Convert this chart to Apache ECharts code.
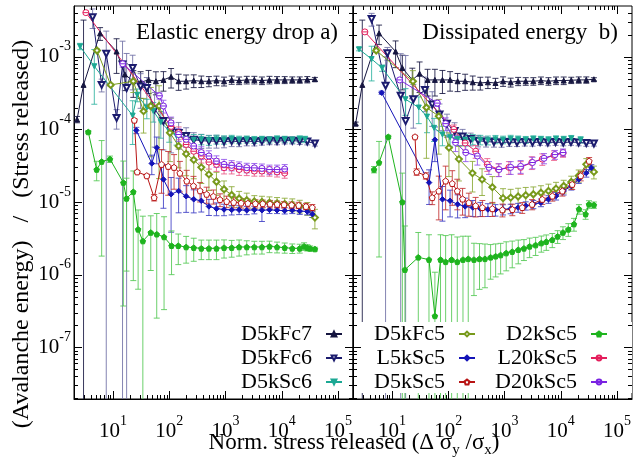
<!DOCTYPE html>
<html><head><meta charset="utf-8">
<script src="https://cdn.jsdelivr.net/npm/echarts@6/dist/echarts.min.js"></script>
<style>html,body{margin:0;padding:0;background:#fff}#c{width:635px;height:461px}</style>
</head><body><div id="c"></div><script>
const FONT = 'Liberation Serif';
const X_MIN = 2.03, X_MAX = 1.85e5, Y_MIN = 1.94e-8, Y_MAX = 5.0e-3;
const seriesNames = ['D5kFc7','D5kFc6','D5kSc6','D5kFc5','L5kSc5','D5kSc5','D2kSc5','L20kSc5','D20kSc5'];
const refLevels = [4.6e-4, 6.5e-5, 2.75e-5, 9.1e-6, 7.8e-6, 2.3e-6];
const refColors = ['#55557a', '#2f5a86', '#e0308c', '#d84848', '#3030d0', '#3cb43c'];
const panelTitles = ['Elastic energy drop a)', 'Dissipated energy  b)'];

// ---------- panel a) Elastic energy drop ----------
const a_D5kFc7_x = [2.3, 3.0, 5.9, 11.6, 16.3, 23, 31, 43, 58, 79, 108, 147, 200, 273, 372, 508, 692, 944, 1290, 1750, 2390, 3260, 4450, 6060, 8260, 11300, 15400, 20900, 28500, 38900];
const a_D5kFc7_y = [1.37e-4, 4.1e-4, 2.1e-3, 1.18e-3, 5.7e-4, 4.6e-4, 4.45e-4, 4.8e-4, 4.6e-4, 4.8e-4, 5.3e-4, 4.6e-4, 4.6e-4, 4.7e-4, 4.6e-4, 4.6e-4, 4.7e-4, 4.6e-4, 4.8e-4, 4.7e-4, 4.8e-4, 4.8e-4, 4.7e-4, 4.8e-4, 4.8e-4, 4.8e-4, 4.8e-4, 4.8e-4, 4.85e-4, 4.9e-4];
const a_D5kFc7_rel = [0.1, 6.8, 0.2, 0.5, 0.4, 0.4, 0.4, 0.35, 0.35, 0.3, 0.3, 0.25, 0.22, 0.2, 0.18, 0.16, 0.15, 0.14, 0.13, 0.12, 0.12, 0.12, 0.12, 0.12, 0.11, 0.11, 0.1, 0.1, 0.1, 0.06];

const a_D5kFc6_x = [4.35, 6.3, 7.6, 11.6, 14.8, 17.5, 22.4, 31, 40, 55, 79, 108, 147, 200, 273, 372, 508, 692, 944, 1290, 1750, 2390, 3260, 4450, 6060, 8260, 11300, 15400, 20900, 28500, 38900];
const a_D5kFc6_y = [3.5e-3, 4.1e-4, 1.1e-3, 1.44e-4, 7.8e-4, 3.7e-4, 7e-4, 3.9e-4, 3.7e-4, 1.9e-4, 1.3e-4, 9.5e-5, 8.9e-5, 8.1e-5, 7.2e-5, 7e-5, 6.9e-5, 6.9e-5, 6.8e-5, 6.9e-5, 6.8e-5, 6.9e-5, 6.8e-5, 6.9e-5, 7e-5, 6.9e-5, 7e-5, 7e-5, 6.9e-5, 6.8e-5, 6.4e-5];
const a_D5kFc6_rel = [0.3, 0.2, 1.05, 0.3, 1.1, 2, 0.5, 0.5, 0.4, 0.7, 0.6, 0.5, 0.4, 0.3, 0.25, 0.22, 0.2, 0.2, 0.18, 0.16, 0.15, 0.14, 0.13, 0.12, 0.12, 0.11, 0.1, 0.1, 0.1, 0.1, 0.08];

const a_D5kSc6_x = [2.6, 4.66, 22.4, 27, 40, 52, 71, 100, 135, 200, 273, 372, 508, 692, 944, 1290, 1750, 2390, 3260, 4450, 6060, 8260, 11300, 15400, 20900, 26000];
const a_D5kSc6_y = [1.39e-3, 7.4e-4, 1.55e-4, 3e-4, 2e-4, 1.8e-4, 1.26e-4, 9.5e-5, 8.1e-5, 7.4e-5, 7.2e-5, 7.3e-5, 7.1e-5, 7.3e-5, 7.2e-5, 7.4e-5, 7.2e-5, 7.3e-5, 7.2e-5, 7.3e-5, 7.2e-5, 7.4e-5, 7.3e-5, 7.2e-5, 7.4e-5, 7.3e-5];
const a_D5kSc6_rel = [0.1, 0.7, 0.6, 0.2, 0.3, 0.3, 0.4, 0.3, 0.25, 0.2, 0.18, 0.16, 0.15, 0.14, 0.13, 0.12, 0.12, 0.11, 0.11, 0.1, 0.1, 0.1, 0.1, 0.1, 0.1, 0.1];

const a_D5kFc5_x = [5.2, 9.1, 23, 35, 47, 66, 103, 147, 200, 273, 372, 508, 692, 944, 1290, 1750, 2390, 3260, 4450, 6060, 8260, 11300, 15400, 20900, 28500, 38900];
const a_D5kFc5_y = [1.22e-3, 4.1e-4, 4.6e-4, 1.78e-4, 2.1e-4, 2.1e-4, 9e-5, 5.9e-5, 4.6e-5, 3.8e-5, 3e-5, 2.4e-5, 1.9e-5, 1.5e-5, 1.25e-5, 1.12e-5, 1.06e-5, 1.02e-5, 1e-5, 9.8e-6, 9.6e-6, 9.4e-6, 9.2e-6, 8.8e-6, 8.2e-6, 6.1e-6];
const a_D5kFc5_rel = [0.05, 0.05, 0.3, 0.5, 0.8, 0.9, 0.6, 0.5, 0.5, 0.45, 0.4, 0.4, 0.35, 0.3, 0.3, 0.25, 0.25, 0.2, 0.2, 0.2, 0.2, 0.2, 0.2, 0.2, 0.2, 0.3];

const a_L5kSc5_x = [26, 49, 60, 79, 108, 147, 200, 273, 372, 508, 692, 944, 1290, 1750, 2390, 3260, 4450, 6060, 8260, 11300, 15400, 20900, 28500, 35000];
const a_L5kSc5_y = [9.7e-5, 3.4e-5, 5.6e-5, 2.05e-5, 1.28e-5, 1.42e-5, 1.2e-5, 1.09e-5, 1.04e-5, 8.7e-6, 8.1e-6, 7.9e-6, 7.8e-6, 7.8e-6, 7.7e-6, 7.8e-6, 7.7e-6, 7.8e-6, 7.7e-6, 7.6e-6, 7.7e-6, 7.5e-6, 7.4e-6, 6.8e-6];
const a_L5kSc5_rel = [0.1, 0.3, 0.4, 0.6, 0.7, 0.5, 0.4, 0.35, 0.3, 0.25, 0.2, 0.18, 0.15, 0.14, 0.13, 0.12, 0.3, 0.11, 0.1, 0.1, 0.1, 0.1, 0.1, 0.1];

const a_D5kSc5_x = [24, 27, 40, 54, 73, 96, 122, 155, 205, 270, 354, 463, 610, 800, 1050, 1400, 1900, 2500, 3400, 4600, 6200, 8300, 11000, 15000, 20000, 27000, 35000];
const a_D5kSc5_y = [1.34e-4, 2.6e-5, 2.3e-5, 1.15e-5, 3.3e-5, 3.1e-5, 3e-5, 2.5e-5, 1.95e-5, 1.67e-5, 1.43e-5, 1.28e-5, 1.2e-5, 1.08e-5, 1.02e-5, 9.9e-6, 9.7e-6, 9.6e-6, 9.5e-6, 9.5e-6, 9.4e-6, 9.3e-6, 9.2e-6, 9.1e-6, 9e-6, 8.7e-6, 8.4e-6];
const a_D5kSc5_rel = [0.05, 0.05, 0.05, 0.1, 0.6, 0.6, 0.5, 0.45, 0.4, 0.35, 0.3, 0.25, 0.22, 0.2, 0.18, 0.16, 0.15, 0.14, 0.13, 0.12, 0.12, 0.11, 0.1, 0.1, 0.1, 0.1, 0.1];

const a_D2kSc5_x = [3.64, 5.13, 6.3, 8.85, 15.3, 17.4, 23, 28, 34, 47, 60, 81, 110, 145, 200, 273, 372, 508, 692, 944, 1290, 1750, 2390, 3260, 4450, 6060, 8260, 11300, 15400, 20900, 25000, 28500, 32000, 38900];
const a_D2kSc5_y = [9.2e-5, 2.8e-5, 3.6e-5, 3.9e-5, 1.85e-5, 1.12e-5, 1.38e-5, 4.2e-6, 2.9e-6, 3.8e-6, 3.6e-6, 3.3e-6, 2.5e-6, 2.5e-6, 2.4e-6, 2.35e-6, 2.3e-6, 2.3e-6, 2.3e-6, 2.35e-6, 2.35e-6, 2.4e-6, 2.4e-6, 2.4e-6, 2.4e-6, 2.45e-6, 2.4e-6, 2.35e-6, 2.3e-6, 2.3e-6, 2.45e-6, 2.35e-6, 2.3e-6, 2.25e-6];
const a_D2kSc5_rel = [0.05, 0.3, 0.95, 0.1, 0.98, 0.9, 0.94, 0.85, 1.2, 0.7, 0.93, 0.9, 0.6, 0.45, 0.4, 0.35, 0.3, 0.3, 0.3, 0.28, 0.26, 0.25, 0.22, 0.2, 0.2, 0.18, 0.17, 0.16, 0.15, 0.14, 0.12, 0.1, 0.08, 0.06];

const a_L20kSc5_x = [3.3, 108, 147, 200, 273, 372, 508, 692, 944, 1290, 1750, 2390, 3260, 4450, 6060, 8260, 11300];
const a_L20kSc5_y = [4.05e-3, 1.1e-4, 9e-5, 6.2e-5, 5e-5, 4.3e-5, 3.55e-5, 3.3e-5, 2.97e-5, 2.97e-5, 2.8e-5, 2.75e-5, 2.67e-5, 2.67e-5, 2.67e-5, 2.6e-5, 2.5e-5];
const a_L20kSc5_rel = [0.05, 0.2, 0.2, 0.2, 0.2, 0.2, 0.2, 0.2, 0.18, 0.18, 0.17, 0.16, 0.15, 0.15, 0.15, 0.15, 0.15];

const a_D20kSc5_x = [14.9, 67, 79, 108, 147, 200, 273, 372, 508, 692, 944, 1290, 1750, 2390, 3260, 4450, 6060, 8260, 11300];
const a_D20kSc5_y = [8e-4, 2.9e-4, 2.1e-4, 1.23e-4, 8.5e-5, 7.3e-5, 5.9e-5, 4.8e-5, 4.3e-5, 3.66e-5, 3.3e-5, 3.2e-5, 3.1e-5, 2.97e-5, 2.95e-5, 2.9e-5, 2.8e-5, 2.8e-5, 2.85e-5];
const a_D20kSc5_rel = [0.1, 0.1, 0.2, 0.2, 0.2, 0.2, 0.2, 0.2, 0.18, 0.18, 0.17, 0.16, 0.15, 0.15, 0.15, 0.15, 0.15, 0.15, 0.15];

// ---------- panel b) Dissipated energy ----------
const b_D5kFc7_x = [2.26, 2.97, 5.9, 11.6, 15.3, 23, 31, 43, 58, 79, 108, 147, 200, 273, 372, 508, 692, 944, 1290, 1750, 2390, 3260, 4450, 6060, 8260, 11300, 15400, 20900, 28500, 38900];
const b_D5kFc7_y = [1.2e-4, 4.1e-4, 2.1e-3, 1.18e-3, 7e-4, 4.8e-4, 5.85e-4, 4.8e-4, 4.8e-4, 4.8e-4, 4.8e-4, 4.6e-4, 4.6e-4, 4.45e-4, 4.35e-4, 4.45e-4, 4.35e-4, 4.6e-4, 4.45e-4, 4.6e-4, 4.6e-4, 4.6e-4, 4.7e-4, 4.6e-4, 4.7e-4, 4.7e-4, 4.75e-4, 4.8e-4, 4.8e-4, 4.9e-4];
const b_D5kFc7_rel = [0.05, 6.8, 0.3, 0.4, 0.5, 0.45, 0.45, 0.4, 0.4, 0.35, 0.3, 0.28, 0.25, 0.22, 0.2, 0.18, 0.16, 0.15, 0.14, 0.13, 0.12, 0.12, 0.12, 0.12, 0.12, 0.12, 0.1, 0.1, 0.1, 0.05];

const b_D5kFc6_x = [4.35, 7.7, 8.3, 14.3, 17.5, 24, 38.6, 52, 70, 95, 130, 180, 250, 340, 470, 650, 890, 1220, 1670, 2300, 3150, 4300, 5900, 8100, 11100, 15200, 20800, 28500, 38900];
const b_D5kFc6_y = [3.3e-3, 4e-4, 1.12e-3, 2.9e-4, 1.3e-4, 2.6e-4, 3.5e-4, 2.2e-4, 1.6e-4, 1.2e-4, 9.5e-5, 8e-5, 7.4e-5, 7e-5, 6.8e-5, 6.7e-5, 6.6e-5, 6.7e-5, 6.6e-5, 6.7e-5, 6.6e-5, 6.7e-5, 6.6e-5, 6.7e-5, 6.6e-5, 6.7e-5, 6.6e-5, 6.5e-5, 6.4e-5];
const b_D5kFc6_rel = [0.2, 1.5, 0.2, 2.8, 7, 0.6, 0.5, 0.5, 0.4, 0.35, 0.3, 0.25, 0.2, 0.18, 0.16, 0.15, 0.14, 0.13, 0.12, 0.12, 0.11, 0.1, 0.1, 0.1, 0.1, 0.1, 0.1, 0.1, 0.08];

const b_D5kSc6_x = [2.6, 4.35, 6.7, 17.4, 30, 42, 56, 79, 108, 147, 200, 273, 372, 508, 692, 944, 1290, 1750, 2390, 3260, 4450, 6060, 8260, 11300, 15400, 22600];
const b_D5kSc6_y = [1.27e-3, 9.3e-4, 7e-4, 2.6e-4, 2e-4, 1.5e-4, 1.05e-4, 8.5e-5, 7.8e-5, 7.4e-5, 7.2e-5, 7.3e-5, 7.2e-5, 7.1e-5, 7.3e-5, 7.2e-5, 7.4e-5, 7.3e-5, 7.2e-5, 7.4e-5, 7.3e-5, 7.2e-5, 7.4e-5, 7.3e-5, 7.5e-5, 7.2e-5];
const b_D5kSc6_rel = [0.05, 0.5, 0.1, 0.4, 0.4, 0.4, 0.35, 0.3, 0.25, 0.2, 0.18, 0.16, 0.15, 0.14, 0.13, 0.12, 0.12, 0.11, 0.11, 0.1, 0.1, 0.1, 0.1, 0.1, 0.1, 0.1];

const b_D5kFc5_x = [5.25, 23.6, 41, 68, 103, 155, 270, 400, 610, 944, 1290, 1750, 2390, 3260, 4450, 6060, 8260, 11300, 15400, 20900, 28500, 38900];
const b_D5kFc5_y = [1.22e-3, 4.6e-4, 2e-4, 1.52e-4, 5.6e-5, 3.9e-5, 2.5e-5, 2.05e-5, 1.6e-5, 1.13e-5, 1.15e-5, 1.19e-5, 1.24e-5, 1.28e-5, 1.34e-5, 1.42e-5, 1.53e-5, 1.66e-5, 1.89e-5, 2.3e-5, 3.3e-5, 2.6e-5];
const b_D5kFc5_rel = [0.05, 0.4, 0.8, 0.7, 0.6, 0.5, 0.45, 0.4, 0.4, 0.35, 0.3, 0.3, 0.28, 0.26, 0.25, 0.24, 0.22, 0.2, 0.2, 0.2, 0.2, 0.2];

const b_L5kSc5_x = [6.55, 45.7, 58, 79, 108, 147, 200, 273, 372, 508, 692, 944, 1290, 1750, 2390, 3260, 4450, 6060, 8260, 11300, 15400, 20900, 28500, 35000];
const b_L5kSc5_y = [3.2e-4, 1.85e-5, 7.2e-5, 1.09e-5, 1.04e-5, 9.3e-6, 8.7e-6, 8.4e-6, 8.1e-6, 7.9e-6, 7.8e-6, 7.9e-6, 8.1e-6, 8.4e-6, 8.9e-6, 9.3e-6, 9.8e-6, 1.09e-5, 1.21e-5, 1.42e-5, 1.66e-5, 2.05e-5, 2.5e-5, 2.97e-5];
const b_L5kSc5_rel = [0.05, 0.5, 0.5, 0.5, 0.4, 0.35, 0.3, 0.25, 0.22, 0.2, 0.18, 0.16, 0.15, 0.14, 0.13, 0.13, 0.12, 0.12, 0.12, 0.12, 0.12, 0.12, 0.12, 0.1];

const b_D5kSc5_x = [25.7, 27.5, 40, 52, 68, 90, 118, 145, 180, 233, 307, 405, 610, 920, 1380, 2070, 3100, 4700, 7100, 10700, 16000, 22700, 32000];
const b_D5kSc5_y = [7.9e-5, 2.6e-5, 2.3e-5, 1.15e-5, 1.42e-5, 1.95e-5, 1.8e-5, 1.42e-5, 1.1e-5, 9.8e-6, 8.9e-6, 8.4e-6, 8.1e-6, 7.8e-6, 7.9e-6, 8.4e-6, 9.3e-6, 1.09e-5, 1.21e-5, 1.42e-5, 1.75e-5, 2.3e-5, 3.66e-5];
const b_D5kSc5_rel = [0.05, 0.1, 0.1, 0.2, 0.6, 0.6, 0.5, 0.45, 0.4, 0.35, 0.3, 0.25, 0.22, 0.2, 0.18, 0.17, 0.16, 0.15, 0.15, 0.15, 0.15, 0.15, 0.12];

const b_D2kSc5_x = [4.8, 5.9, 8.6, 15.3, 17, 29.4, 45.5, 58, 73, 90, 115, 145, 183, 227, 287, 360, 450, 567, 697, 855, 1075, 1375, 1760, 2220, 2800, 3580, 4520, 5540, 7080, 8810, 10960, 13650, 17200, 21100, 27700, 31800, 38900];
const b_D2kSc5_y = [2.8e-5, 3.5e-5, 7.9e-5, 1e-5, 1.17e-6, 1.73e-6, 1.61e-6, 2.7e-7, 1.61e-6, 1.5e-6, 1.61e-6, 1.5e-6, 1.61e-6, 1.65e-6, 1.61e-6, 1.65e-6, 1.65e-6, 1.73e-6, 1.79e-6, 1.86e-6, 1.98e-6, 2.07e-6, 2.2e-6, 2.3e-6, 2.45e-6, 2.55e-6, 2.72e-6, 2.84e-6, 3.02e-6, 3.36e-6, 3.8e-6, 4.2e-6, 4.96e-6, 8e-6, 6.8e-6, 9.3e-6, 9.1e-6];
const b_D2kSc5_rel = [0.1, 0.95, 0.05, 1.5, 3, 1.2, 1.2, 3, 1.2, 1.3, 1.2, 1.2, 1.1, 1.05, 0.68, 0.62, 0.6, 0.5, 0.48, 0.45, 0.43, 0.4, 0.36, 0.32, 0.3, 0.28, 0.25, 0.24, 0.22, 0.2, 0.2, 0.2, 0.2, 0.15, 0.15, 0.12, 0.1];

const b_L20kSc5_x = [3.3, 126, 200, 308, 495, 780, 1200, 1940, 3060, 4700, 7600, 11000];
const b_L20kSc5_y = [2.2e-3, 1e-4, 6.5e-5, 5e-5, 3.3e-5, 2.8e-5, 3e-5, 3e-5, 3.5e-5, 3.9e-5, 4.4e-5, 4.7e-5];
const b_L20kSc5_rel = [0.05, 0.15, 0.2, 0.2, 0.2, 0.2, 0.2, 0.2, 0.2, 0.18, 0.15, 0.12];

const b_D20kSc5_x = [13.7, 64, 90, 135, 205, 330, 530, 800, 1290, 1940, 3150, 5050, 7900, 11000];
const b_D20kSc5_y = [4.8e-4, 2.3e-4, 1.2e-4, 6.6e-5, 4.8e-5, 4.3e-5, 3e-5, 2.8e-5, 3e-5, 3.1e-5, 3.5e-5, 4e-5, 4.5e-5, 4.8e-5];
const b_D20kSc5_rel = [0.05, 0.1, 0.2, 0.25, 0.25, 0.25, 0.2, 0.2, 0.2, 0.2, 0.18, 0.16, 0.14, 0.12];

// ---------- styles ----------
const PENT = 'path://M0,-10L9.51,-3.09L5.88,8.09L-5.88,8.09L-9.51,-3.09Z';
const OCIRC = 'path://M-10,0A10,10 0 1,1 10,0A10,10 0 1,1 -10,0ZM-10,0L10,0';
const STY = {
  D5kFc7: {c: '#15153f', e: '#15153f', sym: 'triangle', rot: 0, open: false, size: 5},
  D5kFc6: {c: '#1c1c6e', e: '#6e6ea4', sym: 'emptyTriangle', rot: 180, open: false, size: 6},
  D5kSc6: {c: '#1ca894', e: '#2fb3a0', sym: 'triangle', rot: 180, open: false, size: 5},
  D5kFc5: {c: '#789a1c', e: '#8aa834', sym: 'emptyDiamond', rot: 0, open: false, size: 6},
  L5kSc5: {c: '#1414b8', e: '#3c3cc4', sym: 'diamond', rot: 0, open: false, size: 5.5},
  D5kSc5: {c: '#b81414', e: '#c23030', sym: PENT, rot: 0, open: true, size: 6},
  D2kSc5: {c: '#1eb41e', e: '#52c852', sym: PENT, rot: 0, open: false, size: 5.5},
  L20kSc5: {c: '#e41e5c', e: '#ea5a88', sym: OCIRC, rot: 0, open: true, size: 6},
  D20kSc5: {c: '#7a22e2', e: '#9254ea', sym: OCIRC, rot: 0, open: true, size: 6}
};
const panelData = [
  {D5kFc7: [a_D5kFc7_x, a_D5kFc7_y, a_D5kFc7_rel], D5kFc6: [a_D5kFc6_x, a_D5kFc6_y, a_D5kFc6_rel], D5kSc6: [a_D5kSc6_x, a_D5kSc6_y, a_D5kSc6_rel],
   D5kFc5: [a_D5kFc5_x, a_D5kFc5_y, a_D5kFc5_rel], L5kSc5: [a_L5kSc5_x, a_L5kSc5_y, a_L5kSc5_rel], D5kSc5: [a_D5kSc5_x, a_D5kSc5_y, a_D5kSc5_rel],
   D2kSc5: [a_D2kSc5_x, a_D2kSc5_y, a_D2kSc5_rel], L20kSc5: [a_L20kSc5_x, a_L20kSc5_y, a_L20kSc5_rel], D20kSc5: [a_D20kSc5_x, a_D20kSc5_y, a_D20kSc5_rel]},
  {D5kFc7: [b_D5kFc7_x, b_D5kFc7_y, b_D5kFc7_rel], D5kFc6: [b_D5kFc6_x, b_D5kFc6_y, b_D5kFc6_rel], D5kSc6: [b_D5kSc6_x, b_D5kSc6_y, b_D5kSc6_rel],
   D5kFc5: [b_D5kFc5_x, b_D5kFc5_y, b_D5kFc5_rel], L5kSc5: [b_L5kSc5_x, b_L5kSc5_y, b_L5kSc5_rel], D5kSc5: [b_D5kSc5_x, b_D5kSc5_y, b_D5kSc5_rel],
   D2kSc5: [b_D2kSc5_x, b_D2kSc5_y, b_D2kSc5_rel], L20kSc5: [b_L20kSc5_x, b_L20kSc5_y, b_L20kSc5_rel], D20kSc5: [b_D20kSc5_x, b_D20kSc5_y, b_D20kSc5_rel]}
];

// ---------- ticks (axis decoration, log minor ticks) ----------
const TICKS = [];
for (let k = 0; k <= 5; k++) for (let m = 1; m <= 9; m++) { const v = m * Math.pow(10, k); if (v > X_MIN * 1.01 && v < X_MAX * 0.99) TICKS.push({ax: 'x', v: v, major: m === 1}); }
for (let k = -8; k <= -3; k++) for (let m = 1; m <= 9; m++) { const v = m * Math.pow(10, k); if (v > Y_MIN * 1.01 && v < Y_MAX * 0.99) TICKS.push({ax: 'y', v: v, major: m === 1}); }

function tickRender(params, api) {
  const t = TICKS[params.dataIndex];
  const cs = params.coordSys;
  const L = t.major ? 8 : 4;
  const st = {stroke: '#000', lineWidth: 1};
  if (t.ax === 'x') {
    const px = Math.round(api.coord([t.v, 1e-5])[0]) + 0.5;
    const b = cs.y + cs.height;
    return {type: 'group', children: [
      {type: 'line', shape: {x1: px, y1: b, x2: px, y2: b - L}, style: st},
      {type: 'line', shape: {x1: px, y1: cs.y, x2: px, y2: cs.y + L}, style: st}]};
  }
  const py = Math.round(api.coord([10, t.v])[1]) + 0.5;
  const r = cs.x + cs.width;
  return {type: 'group', children: [
    {type: 'line', shape: {x1: cs.x, y1: py, x2: cs.x + L, y2: py}, style: st},
    {type: 'line', shape: {x1: r, y1: py, x2: r - L, y2: py}, style: st}]};
}

function errRender(color) {
  return function (params, api) {
    const x = api.value(0), y = api.value(1), d = api.value(2);
    const cs = params.coordSys;
    const p = api.coord([x, y + d]);
    const px = p[0], hiY = p[1];
    const bottom = cs.y + cs.height;
    const hasLo = (y - d) > 0;
    const loY = hasLo ? api.coord([x, y - d])[1] : bottom + 20;
    const cw = 3;
    const st = {stroke: color, lineWidth: 1, opacity: 0.85};
    const ch = [
      {type: 'line', shape: {x1: px, y1: hiY, x2: px, y2: loY}, style: st},
      {type: 'line', shape: {x1: px - cw, y1: hiY, x2: px + cw, y2: hiY}, style: st}];
    if (hasLo) ch.push({type: 'line', shape: {x1: px - cw, y1: loY, x2: px + cw, y2: loY}, style: st});
    return {type: 'group', children: ch};
  };
}

function supLabel(v) {
  const l = Math.log10(v);
  const e = Math.round(l);
  if (Math.abs(l - e) > 0.01) return '';
  return '{b|10}{s|' + e + '}';
}
const supRich = {
  b: {fontFamily: FONT, fontSize: 21, color: '#000', lineHeight: 34},
  s: {fontFamily: FONT, fontSize: 14, color: '#000', lineHeight: 14, verticalAlign: 'top'}
};

const grids = [
  {left: 74, top: 6, width: 279, height: 393},
  {left: 353, top: 6, width: 280, height: 393}
].map(g => Object.assign(g, {show: true, borderColor: '#000', borderWidth: 1, backgroundColor: 'rgba(0,0,0,0)'}));

const xAxes = [0, 1].map(gi => ({
  type: 'log', logBase: 10, gridIndex: gi, min: X_MIN, max: X_MAX,
  axisLine: {show: true, lineStyle: {color: '#000', width: 1}},
  axisTick: {show: false}, splitLine: {show: false}, minorTick: {show: false},
  axisLabel: {formatter: supLabel, rich: supRich, margin: 15, color: '#000'}
}));
const yAxes = [0, 1].map(gi => ({
  type: 'log', logBase: 10, gridIndex: gi, min: Y_MIN, max: Y_MAX,
  axisLine: {show: true, lineStyle: {color: '#000', width: 1}},
  axisTick: {show: false}, splitLine: {show: false}, minorTick: {show: false},
  axisLabel: gi === 0 ? {formatter: supLabel, rich: supRich, margin: 3, color: '#000'} : {show: false}
}));

const series = [];
[0, 1].forEach(gi => {
  seriesNames.forEach((name, si) => {
    const d = panelData[gi][name];
    const st = STY[name];
    const errSeries = {
      type: 'custom', name: name + ' err', xAxisIndex: gi, yAxisIndex: gi, z: 2, clip: true, silent: true,
      renderItem: errRender(st.e),
      encode: {x: 0, y: 1},
      data: d[0].map((x, i) => [x, d[1][i], d[1][i] * (d[2][i] !== undefined ? d[2][i] : 0.1)])
    };
    if (si === 0) {
      errSeries.markLine = {
        silent: true, symbol: ['none', 'none'], label: {show: false}, animation: false,
        data: refLevels.map((v, i) => ({yAxis: v, lineStyle: {color: refColors[i], type: [2, 3], width: 1.2}}))
      };
    }
    series.push(errSeries);
  });
  seriesNames.forEach(name => {
    const d = panelData[gi][name];
    const st = STY[name];
    series.push({
      type: 'line', name: name, xAxisIndex: gi, yAxisIndex: gi, z: 3,
      data: d[0].map((x, i) => [x, d[1][i]]),
      symbol: st.sym, symbolSize: st.size, symbolRotate: st.rot, showSymbol: true,
      lineStyle: {color: st.c, width: 1},
      itemStyle: st.open ? {color: '#fff', borderColor: st.c, borderWidth: 1} : {color: st.c, borderColor: st.c, borderWidth: 1},
      emphasis: {disabled: true}, silent: true
    });
  });
  series.push({
    type: 'custom', name: 'ticks' + gi, xAxisIndex: gi, yAxisIndex: gi, z: 6, clip: false, silent: true,
    renderItem: tickRender, encode: {x: 0, y: 1},
    data: TICKS.map(() => [10, 1e-5])
  });
});

function legendCfg(names, right) {
  return {
    data: names, orient: 'vertical', align: 'right', right: right, top: 322, padding: 0, itemGap: 0,
    itemWidth: 16, itemHeight: 6, selectedMode: false, z: 10,
    textStyle: {fontFamily: FONT, fontSize: 22, color: '#000', lineHeight: 24, padding: [0, 9, 0, 0]}
  };
}

const option = {
  animation: false,
  backgroundColor: '#fff',
  grid: grids,
  xAxis: xAxes,
  yAxis: yAxes,
  legend: [
    legendCfg(['D5kFc7', 'D5kFc6', 'D5kSc6'], 292),
    legendCfg(['D5kFc5', 'L5kSc5', 'D5kSc5'], 159),
    legendCfg(['D2kSc5', 'L20kSc5', 'D20kSc5'], 27)
  ],
  graphic: [
    {type: 'rect', shape: {x: 232, y: 322, width: 120, height: 71}, style: {fill: '#fff'}, z: 4, silent: true},
    {type: 'rect', shape: {x: 355, y: 322, width: 277, height: 71}, style: {fill: '#fff'}, z: 4, silent: true},
    {type: 'text', x: 338, y: 33, z: 5, style: {text: panelTitles[0], fontFamily: FONT, fontSize: 23, fill: '#000', align: 'right', verticalAlign: 'middle'}},
    {type: 'text', x: 618, y: 33, z: 5, style: {text: panelTitles[1], fontFamily: FONT, fontSize: 23, fill: '#000', align: 'right', verticalAlign: 'middle'}},
    {type: 'text', x: 354, y: 443, z: 5, style: {
      text: '{t|Norm. stress released (Δ σ}{u|y}{t| /σ}{u|x}{t|)}',
      rich: {t: {fontFamily: FONT, fontSize: 23, fill: '#000', color: '#000', lineHeight: 30},
             u: {fontFamily: FONT, fontSize: 15, fill: '#000', color: '#000', lineHeight: 14, verticalAlign: 'bottom'}},
      align: 'center', verticalAlign: 'middle'}},
    {type: 'text', x: 22, y: 234, rotation: Math.PI / 2, z: 5, style: {
      text: '(Avalanche energy)   /   (Stress released)', fontFamily: FONT, fontSize: 24, fill: '#000',
      align: 'center', verticalAlign: 'middle'}}
  ],
  series: series
};

const chart = echarts.init(document.getElementById('c'), null, {renderer: 'canvas'});
chart.setOption(option);
</script></body></html>
